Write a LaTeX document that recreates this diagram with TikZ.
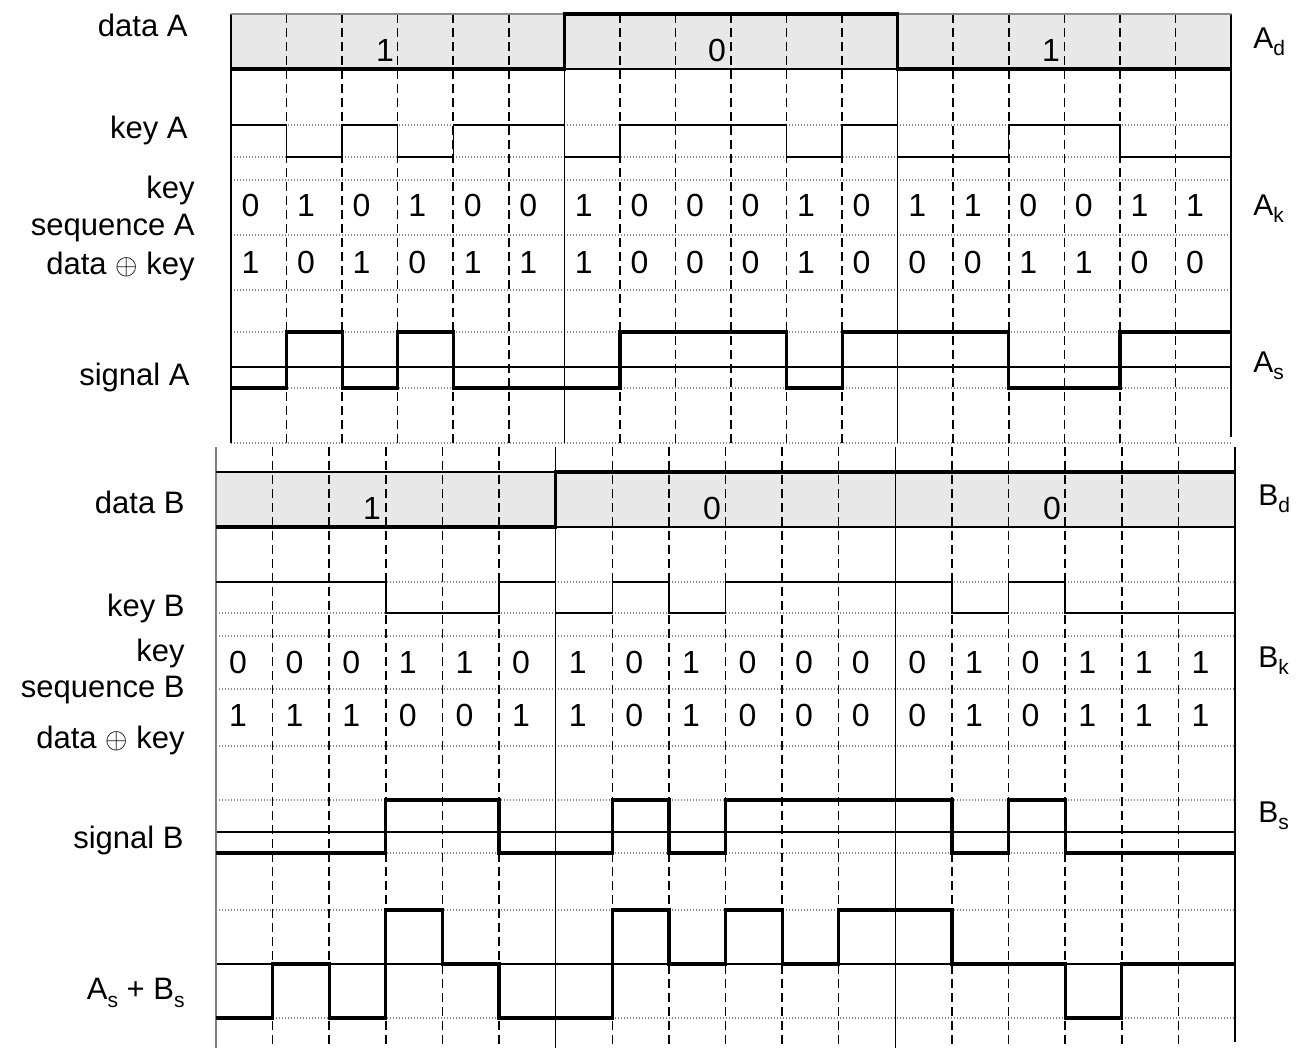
\documentclass[tikz,border=0pt]{standalone}
\usepackage{fontspec}
\setmainfont{Liberation Sans}
\definecolor{band}{gray}{0.91}
\definecolor{gridc}{gray}{0.55}
\tikzset{
 thinl/.style={line width=0.7pt},
 thickl/.style={line width=1.6pt, line join=miter},
 dashv/.style={line width=0.75pt, dash pattern=on 4.5pt off 2.5pt},
 dotg/.style={gridc, line width=0.6pt, dash pattern=on 0.6pt off 0.9pt},
 lbl/.style={anchor=east, inner sep=0pt, font=\fontsize{15.5}{18}\selectfont},
 dig/.style={inner sep=0pt, font=\fontsize{16}{18}\selectfont},
 rlbl/.style={anchor=west, inner sep=0pt, font=\fontsize{15}{18}\selectfont},
}
\newcommand\sbs[1]{\raisebox{-0.45ex}{\fontsize{10.5}{10}\selectfont #1}}
\begin{document}
\begin{tikzpicture}[x=0.5pt,y=-0.5pt]
\useasboundingbox (0,0) rectangle (1309,1048);
% ================= section A =================
\fill[band] (231,14) rectangle (1231,69);
\foreach \yy in {125,157,180,235,290,332,388,443}
  \draw[dotg] (231,\yy) -- (1231,\yy);
\draw[thinl] (231,367) -- (1231,367);
\foreach \i in {1,...,17}{
  \ifnum\i=6\relax\else\ifnum\i=12\relax\else
  \draw[dashv] ({231+\i*55.5556},14) -- ({231+\i*55.5556},443);
  \fi\fi}
\draw[thinl] (231,14) -- (231,443);
\draw[thinl] (564.33,14) -- (564.33,443);
\draw[thinl] (897.67,14) -- (897.67,443);
\draw[thinl] (1231,14) -- (1231,437);
% data A
\draw[gridc,line width=0.6pt] (231,14) -- (564.33,14);
\draw[gridc,line width=0.6pt] (897.67,14) -- (1231,14);
\draw[thinl] (564.33,69) -- (897.67,69);
\draw[thickl] (231,69) -- (564.33,69) -- (564.33,14) -- (897.67,14) -- (897.67,69) -- (1231,69);
% key A
\draw[thinl] (231,125) \foreach \v [count=\i] in {125,157,125,157,125,125,157,125,125,125,157,125,157,157,125,125,157,157}
  { -- ({231+(\i-1)*55.5556},\v) -- ({231+\i*55.5556},\v) };
% signal A
\draw[thickl] (231,388) \foreach \v [count=\i] in {388,332,388,332,388,388,388,332,332,332,388,332,332,332,388,388,332,332}
  { -- ({231+(\i-1)*55.5556},\v) -- ({231+\i*55.5556},\v) };
% digits A
\foreach \d [count=\i] in {0,1,0,1,0,0,1,0,0,0,1,0,1,1,0,0,1,1}
  \node[dig] (ka\i) at ({231+(\i-1)*55.5556+19.5},205) {\d};
\foreach \d [count=\i] in {1,0,1,0,1,1,1,0,0,0,1,0,0,0,1,1,0,0}
  \node[dig] (xa\i) at ({231+(\i-1)*55.5556+19.5},262) {\d};
\node[dig] (da1) at (385,50) {1};
\node[dig] (da2) at (717,50) {0};
\node[dig] (da3) at (1051,50) {1};
% labels A
\node[lbl] (lDataA) at (188,25) {data A};
\node[lbl] (lKeyA) at (188,130) {key A};
\node[lbl] (lKeyA1) at (195,190) {key};
\node[lbl] (lKeyA2) at (195,228) {sequence A};
\node[lbl] (lKeyA3) at (195,266) {data $\oplus$ key};
\node[lbl] (lSigA) at (190,377) {signal A};
\node[rlbl] (rAd) at (1253,42) {A\sbs{d}};
\node[rlbl] (rAk) at (1253,209) {A\sbs{k}};
\node[rlbl] (rAs) at (1253,366) {A\sbs{s}};
% ================= section B =================
\fill[band] (216,472) rectangle (1235,527);
\foreach \yy in {582,613,636,689,746,800,853,910,1018}
  \draw[dotg] (216,\yy) -- (1235,\yy);
\draw[thinl] (216,832) -- (1235,832);
\draw[thinl] (216,964) -- (1235,964);
\foreach \i in {1,...,17}{
  \ifnum\i=6\relax\else\ifnum\i=12\relax\else
  \draw[dashv] ({216+\i*56.6111},447) -- ({216+\i*56.6111},1048);
  \fi\fi}
\draw[gray,line width=1pt] (216,447) -- (216,1048);
\draw[thinl] (555.67,447) -- (555.67,1048);
\draw[thinl] (895.33,447) -- (895.33,1048);
\draw[thinl] (1235,447) -- (1235,1042);
% data B
\draw[thinl] (216,472) -- (555.67,472);
\draw[thinl] (555.67,527) -- (1235,527);
\draw[thickl] (216,527) -- (555.67,527) -- (555.67,472) -- (1235,472);
% key B
\draw[thinl] (216,582) \foreach \v [count=\i] in {582,582,582,613,613,582,613,582,613,582,582,582,582,613,582,613,613,613}
  { -- ({216+(\i-1)*56.6111},\v) -- ({216+\i*56.6111},\v) };
% signal B
\draw[thickl] (216,853) \foreach \v [count=\i] in {853,853,853,800,800,853,853,800,853,800,800,800,800,853,800,853,853,853}
  { -- ({216+(\i-1)*56.6111},\v) -- ({216+\i*56.6111},\v) };
% sum
\draw[thickl] (216,1018) \foreach \v [count=\i] in {1018,964,1018,910,964,1018,1018,910,964,910,964,910,910,964,964,1018,964,964}
  { -- ({216+(\i-1)*56.6111},\v) -- ({216+\i*56.6111},\v) };
% digits B
\foreach \d [count=\i] in {0,0,0,1,1,0,1,0,1,0,0,0,0,1,0,1,1,1}
  \node[dig] (kb\i) at ({216+(\i-1)*56.6111+22},662) {\d};
\foreach \d [count=\i] in {1,1,1,0,0,1,1,0,1,0,0,0,0,1,0,1,1,1}
  \node[dig] (xb\i) at ({216+(\i-1)*56.6111+22},715) {\d};
\node[dig] (db1) at (372,508) {1};
\node[dig] (db2) at (712,508) {0};
\node[dig] (db3) at (1052,508) {0};
% labels B
\node[lbl] (lDataB) at (185,502) {data B};
\node[lbl] (lKeyB) at (185,608) {key B};
\node[lbl] (lKeyB1) at (185,653) {key};
\node[lbl] (lKeyB2) at (185,690) {sequence B};
\node[lbl] (lKeyB3) at (185,740) {data $\oplus$ key};
\node[lbl] (lSigB) at (184,840) {signal B};
\node[lbl] (lSum) at (185,993) {A\sbs{s} + B\sbs{s}};
\node[rlbl] (rBd) at (1258,499) {B\sbs{d}};
\node[rlbl] (rBk) at (1258,661) {B\sbs{k}};
\node[rlbl] (rBs) at (1258,816) {B\sbs{s}};
\end{tikzpicture}
\end{document}
